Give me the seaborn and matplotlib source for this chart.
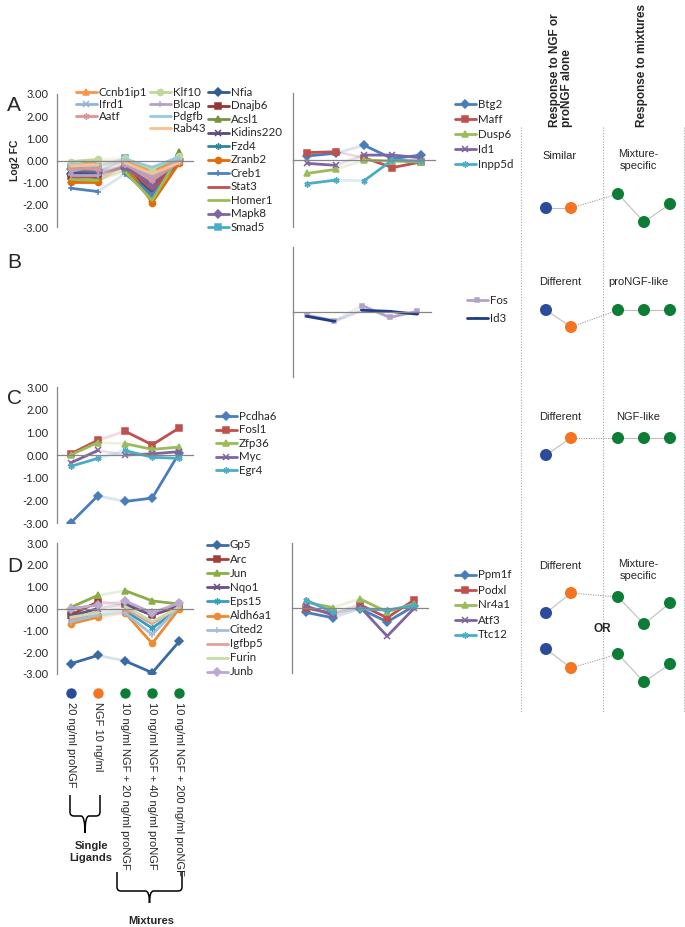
import matplotlib
matplotlib.use('Agg')
import matplotlib.pyplot as plt
import matplotlib.transforms as mtransforms
from matplotlib.path import Path
from matplotlib.patches import PathPatch
import seaborn as sns

# x categories (treatments)
conditions = ['20 ng/ml proNGF', 'NGF 10 ng/ml', '10 ng/ml NGF + 20 ng/ml proNGF',
              '10 ng/ml NGF + 40 ng/ml proNGF', '10 ng/ml NGF + 200 ng/ml proNGF']

# Panel A, left
genes_a1 = ['Nfia', 'Dnajb6', 'Acsl1', 'Kidins220', 'Fzd4', 'Zranb2', 'Creb1', 'Stat3',
            'Homer1', 'Mapk8', 'Smad5', 'Ccnb1ip1', 'Ifrd1', 'Aatf', 'Klf10', 'Blcap',
            'Pdgfb', 'Rab43']
fc_a1 = [[-0.6, -0.55, -0.35, -1.45, 0.0],
         [-0.7, -0.75, -0.25, -1.1, -0.05],
         [-0.9, -0.85, -0.4, -1.75, 0.4],
         [-0.55, -0.6, -0.3, -1.2, 0.1],
         [-0.45, -0.5, 0.05, -0.5, 0.15],
         [-0.95, -0.95, -0.15, -1.9, -0.1],
         [-1.25, -1.4, -0.6, -1.55, 0.05],
         [-0.8, -0.7, -0.2, -1.3, 0.0],
         [-0.85, -0.9, -0.5, -1.8, 0.25],
         [-0.4, -0.45, -0.3, -1.05, 0.05],
         [-0.3, -0.3, 0.1, -0.65, 0.1],
         [-0.2, -0.05, 0.0, -0.55, 0.05],
         [-0.5, -0.2, -0.1, -0.8, 0.1],
         [-0.35, -0.4, -0.15, -0.9, -0.05],
         [-0.05, 0.05, 0.1, -0.4, 0.2],
         [-0.65, -0.65, -0.2, -0.75, 0.0],
         [-0.15, -0.2, 0.05, -0.3, 0.15],
         [-0.25, -0.2, -0.1, -0.6, -0.1]]

# Panel A, right
genes_a2 = ['Btg2', 'Maff', 'Dusp6', 'Id1', 'Inpp5d']
fc_a2 = [[0.18, 0.3, 0.66, 0.06, 0.22],
         [0.33, 0.37, 0.1, -0.34, -0.09],
         [-0.6, -0.42, 0.0, -0.05, -0.09],
         [-0.15, -0.24, 0.22, 0.22, 0.1],
         [-1.06, -0.9, -0.93, 0.0, -0.05]]

# Panel B
genes_b = ['Fos', 'Id3']
fc_b = [[-0.15, -0.4, 0.3, -0.25, 0.03],
        [-0.2, -0.43, 0.08, 0.03, -0.1]]

# Panel C
genes_c = ['Pcdha6', 'Fosl1', 'Zfp36', 'Myc', 'Egr4']
fc_c = [[-3.0, -1.8, -2.05, -1.9, 0.1],
        [0.05, 0.65, 1.05, 0.45, 1.2],
        [0.0, 0.55, 0.5, 0.25, 0.35],
        [-0.35, 0.2, 0.0, 0.05, 0.15],
        [-0.5, -0.15, 0.2, -0.1, -0.15]]

# Panel D, left
genes_d1 = ['Gp5', 'Arc', 'Jun', 'Nqo1', 'Eps15', 'Aldh6a1', 'Cited2', 'Igfbp5', 'Furin', 'Junb']
fc_d1 = [[-2.53, -2.15, -2.4, -2.94, -1.5],
         [-0.3, 0.3, 0.2, -0.3, 0.1],
         [0.05, 0.6, 0.82, 0.35, 0.2],
         [-0.35, 0.0, 0.2, -0.3, 0.2],
         [-0.55, -0.3, -0.1, -0.9, 0.0],
         [-0.7, -0.4, -0.2, -1.6, 0.0],
         [-0.6, -0.3, -0.2, -1.2, 0.1],
         [-0.5, -0.15, 0.0, -0.7, 0.1],
         [-0.4, -0.2, 0.1, -0.6, 0.05],
         [0.0, 0.15, 0.35, -0.2, 0.25]]

# Panel D, right
genes_d2 = ['Ppm1f', 'Podxl', 'Nr4a1', 'Atf3', 'Ttc12']
fc_d2 = [[-0.2, -0.45, -0.03, -0.64, 0.1],
         [0.0, -0.25, 0.15, -0.45, 0.38],
         [0.27, 0.02, 0.42, -0.18, 0.2],
         [0.1, -0.33, 0.05, -1.3, 0.0],
         [0.38, -0.2, -0.03, -0.1, 0.12]]

# schematic response patterns (relative levels) for the right-hand columns
pattern_a = [0, 0, 1.4, -1.4, 0.4]
pattern_b = [0, -1.7, 0, 0, 0]
pattern_c = [-1.7, 0, 0, 0, 0]
pattern_d1 = [-2.0, 0, -0.4, -3.1, -1.0]
pattern_d2 = [0, -1.9, -0.5, -3.3, -1.5]

# styles
AST = (6, 2, 0)
five_colors = ['#4A7EBB', '#C0504D', '#9BBB59', '#8064A2', '#4BACC6']
five_markers = ['D', 's', '^', 'x', AST]
colors_a1 = ['#2F5C8F', '#943634', '#76923C', '#5F497A', '#31859C', '#E36C09',
             '#4F81BD', '#C0504D', '#9BBB59', '#8064A2', '#4BACC6', '#F79646',
             '#95B3D7', '#D99694', '#C3D69B', '#B3A2C7', '#93CDDD', '#FAC090']
markers_a1 = ['D', 's', '^', 'x', AST, 'o', '+', None, None,
              'D', 's', '^', 'x', AST, 'o', '+', None, None]
colors_b = ['#B3A2C7', '#1F3C88']
markers_b = ['s', '_']
colors_d1 = ['#3A6BA5', '#A33F3C', '#8AAE45', '#6A4F8C', '#31A0B8', '#F08A30',
             '#A3BDDE', '#DFA09E', '#C9DBA4', '#BBA9CF']
markers_d1 = ['D', 's', '^', 'x', AST, 'o', '+', None, None, 'D']
dot_colors = ['#2B4C9B', '#F47421', '#0B7D35', '#0B7D35', '#0B7D35']

sns.set_style('white')
plt.rcParams['font.family'] = ['Liberation Sans', 'DejaVu Sans']

W, H = 685, 927
GRAY = '#868686'
LEG_FONT = 'Lato'
fig = plt.figure(figsize=(W / 100, H / 100), dpi=100)


def px_axes(x0, y0, x1, y1):
    return fig.add_axes([x0 / W, 1 - y1 / H, (x1 - x0) / W, (y1 - y0) / H])


def msize(m, base):
    # diamonds read larger than the other markers
    return base * 0.85 if m == 'D' else base


def draw_series(ax, values, colors, markers, lw=2, ms=4.4):
    x = list(range(len(conditions)))
    for v, c, m in zip(values, colors, markers):
        # faded connector between single ligands and mixtures
        sns.lineplot(x=x[1:3], y=v[1:3], color=c, alpha=0.2, lw=lw, ax=ax, errorbar=None)
        for sl in (slice(0, 2), slice(2, 5)):
            sns.lineplot(x=x[sl], y=v[sl], color=c, marker=m, lw=lw, ms=msize(m, ms),
                         mec=c, mew=1.1, ax=ax, errorbar=None)


def style_axis(ax, labels=True):
    ax.set_xlim(-0.5, 4.5)
    ax.set_ylim(-3, 3)
    ax.spines['top'].set_visible(False)
    ax.spines['right'].set_visible(False)
    ax.spines['bottom'].set_position(('data', 0))
    for s in ['left', 'bottom']:
        ax.spines[s].set_color(GRAY)
        ax.spines[s].set_linewidth(0.9)
    ax.set_xticks([0.5, 1.5, 2.5, 3.5, 4.5])
    ax.set_xticklabels([])
    ax.set_yticks(range(-3, 4))
    if labels:
        ax.set_yticklabels([f'{v:.2f}' for v in range(-3, 4)], fontfamily=LEG_FONT)
    else:
        ax.set_yticklabels([])
    ax.tick_params(axis='x', direction='inout', length=6, color=GRAY, width=0.9)
    ax.tick_params(axis='y', direction='out', length=4, color=GRAY, width=0.9,
                   labelsize=8, pad=2)
    ax.set_xlabel('')
    ax.set_ylabel('')
    ax.patch.set_alpha(0)


ax_a1 = px_axes(57, 94, 193, 227)
ax_a2 = px_axes(293, 93, 435, 227)
ax_b = px_axes(293, 247, 431, 377)
ax_c = px_axes(57, 387, 193, 523)
ax_d1 = px_axes(57, 543, 193, 674)
ax_d2 = px_axes(292, 543, 428, 673)

draw_series(ax_a1, fc_a1, colors_a1, markers_a1)
draw_series(ax_a2, fc_a2, five_colors, five_markers)
draw_series(ax_b, fc_b, colors_b, markers_b, ms=3)
draw_series(ax_c, fc_c, five_colors, five_markers)
draw_series(ax_d1, fc_d1, colors_d1, markers_d1)
draw_series(ax_d2, fc_d2, five_colors, five_markers)

style_axis(ax_a1)
style_axis(ax_a2, labels=False)
style_axis(ax_b, labels=False)
style_axis(ax_c)
style_axis(ax_d1)
style_axis(ax_d2, labels=False)

# overlay in pixel coordinates for annotations
ov = fig.add_axes([0, 0, 1, 1])
ov.set_xlim(0, W)
ov.set_ylim(H, 0)
ov.axis('off')


def legend_block(names, colors, markers, x, y0, pitch, ms=4.4):
    for i, (n, c, m) in enumerate(zip(names, colors, markers)):
        y = y0 + i * pitch
        ov.plot([x, x + 21], [y, y], color=c, lw=2)
        if m is not None:
            ov.plot([x + 10.5], [y], color=c, marker=m, ms=msize(m, ms), mec=c, mew=1.1)
        ov.text(x + 23, y, n, va='center', ha='left', fontsize=8.3, family=LEG_FONT)


legend_block(genes_a1[11:14], colors_a1[11:14], markers_a1[11:14], 76, 92, 12)
legend_block(genes_a1[14:], colors_a1[14:], markers_a1[14:], 150, 92, 12)
legend_block(genes_a1[:11], colors_a1[:11], markers_a1[:11], 208, 92, 13.5)
legend_block(genes_a2, five_colors, five_markers, 455, 104, 15)
legend_block(genes_b, colors_b, markers_b, 467, 300, 18, ms=3)
legend_block(genes_c, five_colors, five_markers, 216, 416, 13.6)
legend_block(genes_d1, colors_d1, markers_d1, 207, 545, 14.1)
legend_block(genes_d2, five_colors, five_markers, 455, 575, 15)

# panel letters and y label
for letter, y in zip('ABCD', [105, 262, 398, 566]):
    ov.text(7, y, letter, fontsize=15, va='center', ha='left')
ov.text(15, 160, 'Log2 FC', rotation=90, fontsize=7.5, weight='bold',
        va='center', ha='center')

# condition dots and rotated labels under panel D
blend = mtransforms.blended_transform_factory(ax_d1.transData, ov.transData)
for i, (lab, c) in enumerate(zip(conditions, dot_colors)):
    ov.plot([i], [693], marker='o', ms=7.5, color=c, mec='none', transform=blend)
    ov.text(i, 702, lab, rotation=270, va='top', ha='center', fontsize=8,
            transform=blend)


def brace(x0, x1, ytop, ymid, ytip, r=4):
    xm = (x0 + x1) / 2
    verts = [(x0, ytop), (x0, ymid - r), (x0, ymid), (x0 + r, ymid), (xm - r, ymid),
             (xm, ymid), (xm, ytip),
             (x1, ytop), (x1, ymid - r), (x1, ymid), (x1 - r, ymid), (xm + r, ymid),
             (xm, ymid), (xm, ytip)]
    codes = [Path.MOVETO, Path.LINETO, Path.CURVE3, Path.CURVE3, Path.LINETO,
             Path.CURVE3, Path.CURVE3] * 2
    ov.add_patch(PathPatch(Path(verts, codes), fill=False, lw=1.1, ec='black'))


brace(70, 100, 795, 816, 833)
brace(117, 182, 872, 891, 903)
ov.text(91, 852, 'Single\nLigands', ha='center', va='center', fontsize=8,
        weight='bold', linespacing=1.15)
ov.text(151, 921, 'Mixtures', ha='center', va='center', fontsize=8, weight='bold')

# right-hand schematic columns
for x in [521, 603, 684]:
    ov.plot([x, x], [127, 713], color='#A6A6A6', lw=0.8, ls=(0, (1, 1.5)))
ov.text(561, 127, 'Response to NGF or\nproNGF alone', rotation=90, ha='center',
        va='bottom', fontsize=8.5, weight='bold', multialignment='left',
        linespacing=1.1)
ov.text(642, 127, 'Response to mixtures', rotation=90, ha='center', va='bottom',
        fontsize=8.5, weight='bold')

row_texts = [('Similar', 'Mixture-\nspecific', 156), ('Different', 'proNGF-like', 282),
             ('Different', 'NGF-like', 417), ('Different', 'Mixture-\nspecific', 566)]
for left, right, y in row_texts:
    ov.text(560, y, left, ha='center', va='center', fontsize=8)
    ov.text(638, y + (4 if '\n' in right else 0), right, ha='center', va='center',
            fontsize=8, linespacing=1.15)
ov.text(602, 629, 'OR', ha='center', va='center', fontsize=8.5, weight='bold')

sch_x = [546, 571, 618, 644, 670]
for pattern, yc in zip([pattern_a, pattern_b, pattern_c, pattern_d1, pattern_d2],
                       [208, 310, 438, 593, 649]):
    ys = [yc - 10 * v for v in pattern]
    ov.plot(sch_x[:2], ys[:2], color='#BFBFBF', lw=0.8)
    ov.plot(sch_x[1:3], ys[1:3], color='#9A9A9A', lw=0.8, ls=(0, (1, 1.2)))
    ov.plot(sch_x[2:], ys[2:], color='#BFBFBF', lw=0.8)
    sns.scatterplot(x=sch_x, y=ys, hue=list(range(5)), palette=dot_colors, s=75,
                    edgecolor='none', legend=False, ax=ov, zorder=3)
ov.set_xlim(0, W)
ov.set_ylim(H, 0)
ov.axis('off')

fig.savefig('out.png', dpi=100, facecolor='white')
